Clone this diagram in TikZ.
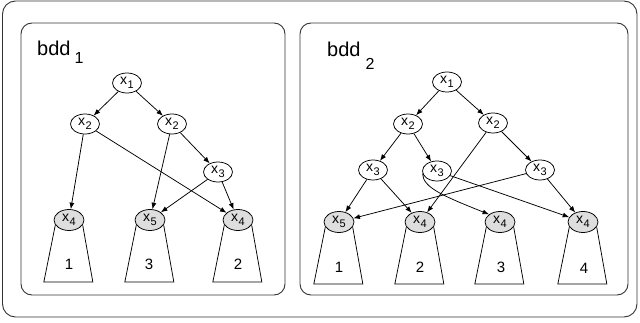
\documentclass[tikz,border=0pt]{standalone}
\usepackage{fontspec}
\setmainfont{Liberation Sans}
\usetikzlibrary{shapes.geometric,arrows.meta}
\newcommand{\xv}[1]{x\kern0.6pt\raisebox{-3.5pt}{\fontsize{11}{11}\selectfont #1}}
\newcommand{\trapz}[1]{\draw[trap] (#1.200) -- ++(-11.5,57) -- ++(49,0) -- (#1.-20);}
\begin{document}
\begin{tikzpicture}[x=1pt,y=-1pt,
  vnode/.style={ellipse,draw,line width=0.75pt,minimum width=29pt,minimum height=20pt,inner sep=0pt,font=\fontsize{14}{14}\selectfont},
  leafnode/.style={vnode,fill=black!13,minimum width=30pt,minimum height=21pt},
  arr/.style={-{Latex[length=6.5pt,width=5pt]},line width=0.75pt},
  frame/.style={draw=black!80,line width=0.9pt,rounded corners=11pt},
  trap/.style={draw,line width=0.75pt},
  num/.style={font=\fontsize{15}{15}\selectfont,inner sep=0pt},
  title/.style={font=\fontsize{20}{20}\selectfont,inner sep=0pt,anchor=base west}]
\useasboundingbox (0,0) rectangle (640,323);
\draw[frame,rounded corners=13pt] (2.5,1) rectangle (637,317);
\draw[frame] (21,23) rectangle (285,295);
\draw[frame] (300,23) rectangle (628,295);

\node[title] (t1) at (37,56) {bdd\hspace{4pt}\raisebox{-8pt}{\fontsize{16}{16}\selectfont 1}};
\node[title] (t2) at (327,57) {bdd\hspace{5pt}\raisebox{-12.5pt}{\fontsize{16}{16}\selectfont 2}};

% left tree
\node[vnode] (L1) at (127,83) {\xv{1}};
\node[vnode] (L2a) at (85,124) {\xv{2}};
\node[vnode] (L2b) at (172,124) {\xv{2}};
\node[vnode] (L3) at (218,172) {\xv{3}};
\node[leafnode] (L4a) at (69,220) {\xv{4}};
\node[leafnode] (L5) at (150,220) {\xv{5}};
\node[leafnode] (L4b) at (238,220) {\xv{4}};
\trapz{L4a}\trapz{L5}\trapz{L4b}
\node[num] (l1) at (69,264) {1};
\node[num] (l3) at (149,264) {3};
\node[num] (l2) at (238,264) {2};
\draw[arr] (L1) -- (L2a);
\draw[arr] (L1) -- (L2b);
\draw[arr] (L2a) -- (L4a);
\draw[arr] (L2a) -- (L4b);
\draw[arr] (L2b) -- (L5);
\draw[arr] (L2b) -- (L3);
\draw[arr] (L3) -- (L5);
\draw[arr] (L3) -- (L4b);

% right tree
\node[vnode] (R1) at (447,82) {\xv{1}};
\node[vnode] (R2a) at (408,124) {\xv{2}};
\node[vnode] (R2b) at (493,123) {\xv{2}};
\node[vnode] (R3a) at (373,170) {\xv{3}};
\node[vnode] (R3b) at (437,171) {\xv{3}};
\node[vnode] (R3c) at (540,170) {\xv{3}};
\node[leafnode] (R5) at (339,222) {\xv{5}};
\node[leafnode] (R4a) at (420,222) {\xv{4}};
\node[leafnode] (R4b) at (500,222) {\xv{4}};
\node[leafnode] (R4c) at (583,222) {\xv{4}};
\trapz{R5}\trapz{R4a}\trapz{R4b}\trapz{R4c}
\node[num] (r1) at (339,267) {1};
\node[num] (r2) at (420,267) {2};
\node[num] (r3) at (501,267) {3};
\node[num] (r4) at (584,268) {4};
\draw[arr] (R1) -- (R2a);
\draw[arr] (R1) -- (R2b);
\draw[arr] (R2a) -- (R3a);
\draw[arr] (R2a) -- (R3b);
\draw[arr] (R2b) -- (R4a);
\draw[arr] (R2b) -- (R3c);
\draw[arr] (R3a) -- (R5);
\draw[arr] (R3a) -- (R4a);
\draw[arr] (R3b.190) .. controls +(0,14) and +(-45,-18) .. (R4b.145);
\draw[arr] (R3b) -- (R4c);
\draw[arr] (R3c) -- (R5);
\draw[arr] (R3c) -- (R4c);
\end{tikzpicture}
\end{document}
